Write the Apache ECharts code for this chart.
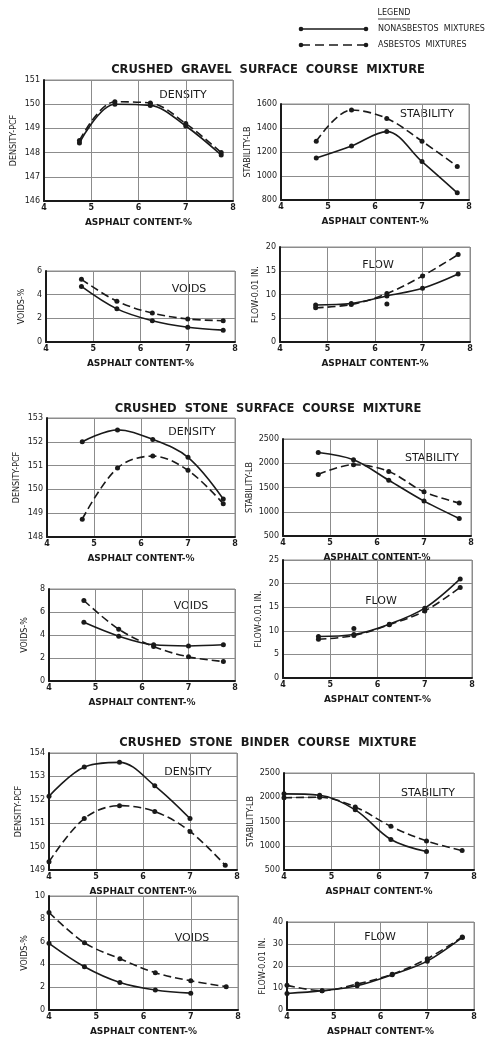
<!DOCTYPE html>
<html>
<head>
<meta charset="utf-8">
<script src="https://cdn.jsdelivr.net/npm/echarts@6/dist/echarts.min.js"></script>
<style>
  html, body { margin: 0; padding: 0; background: #fff; }
  #chart { width: 501px; height: 1037px; }
</style>
</head>
<body>
<div id="chart"></div>
<script>
// Asphalt content (%) at which the test mixtures were made
const asphaltSurface = [4.75, 5.5, 6.25, 7.0, 7.75];
const asphaltBinderNon = [4.0, 4.75, 5.5, 6.25, 7.0];
const asphaltBinderAsb = [4.0, 4.75, 5.5, 6.25, 7.0, 7.75];

// Crushed gravel surface course mixture
const gravelDensityNon = [148.4, 150.0, 149.95, 149.1, 147.9];
const gravelDensityAsb = [148.5, 150.1, 150.05, 149.2, 148.0];
const gravelStabilityNon = [1150, 1250, 1370, 1120, 860];
const gravelStabilityAsb = [1290, 1550, 1480, 1290, 1080];
const gravelVoidsNon = [4.7, 2.8, 1.8, 1.25, 1.0];
const gravelVoidsAsb = [5.3, 3.45, 2.45, 1.95, 1.8];
const gravelFlowNon = [7.8, 8.1, 9.7, 11.3, 14.3];
const gravelFlowAsb = [7.2, 7.9, 10.2, 13.9, 18.4];
const gravelFlowExtraX = [6.25];
const gravelFlowExtraY = [8.0];

// Crushed stone surface course mixture
const stoneDensityNon = [152.0, 152.5, 152.1, 151.35, 149.6];
const stoneDensityAsb = [148.75, 150.9, 151.4, 150.8, 149.4];
const stoneStabilityNon = [2220, 2070, 1650, 1220, 860];
const stoneStabilityAsb = [1770, 1970, 1830, 1410, 1180];
const stoneVoidsNon = [5.1, 3.9, 3.15, 3.05, 3.15];
const stoneVoidsAsb = [7.0, 4.5, 3.0, 2.1, 1.7];
const stoneFlowNon = [8.8, 9.2, 11.4, 14.8, 21.0];
const stoneFlowAsb = [8.2, 9.0, 11.3, 14.2, 19.2];
const stoneFlowExtraX = [5.5];
const stoneFlowExtraY = [10.5];

// Crushed stone binder course mixture
const binderDensityNon = [152.15, 153.4, 153.6, 152.6, 151.2];
const binderDensityAsb = [149.35, 151.2, 151.75, 151.5, 150.65, 149.2];
const binderStabilityNon = [2070, 2040, 1740, 1130, 880];
const binderStabilityAsb = [1990, 2000, 1800, 1400, 1100, 900];
const binderVoidsNon = [5.85, 3.8, 2.42, 1.76, 1.48];
const binderVoidsAsb = [8.55, 5.9, 4.5, 3.27, 2.56, 2.05];
const binderFlowNon = [7.5, 8.8, 11.0, 16.0, 22.2, 33.0];
const binderFlowAsb = [11.2, 8.8, 11.8, 16.3, 23.3, 33.2];
const asphaltBinderFlow = [4.0, 4.75, 5.5, 6.25, 7.0, 7.75];

// Axis tick labels and texts
const xTicks = [4, 5, 6, 7, 8];
const xName = 'ASPHALT CONTENT-%';
const sectionTitles = [
  'CRUSHED  GRAVEL  SURFACE  COURSE  MIXTURE',
  'CRUSHED  STONE  SURFACE  COURSE  MIXTURE',
  'CRUSHED  STONE  BINDER  COURSE  MIXTURE'
];
const legendNames = ['NONASBESTOS  MIXTURES', 'ASBESTOS  MIXTURES'];

const pair = (xs, ys) => xs.map((x, i) => [x, ys[i]]);

// Panel layout: [left, top, width, height] of each plot area, y range and step
const panels = [
  { box: [44, 80, 189, 121], y: [146, 151, 1], yName: 'DENSITY-PCF', tag: 'DENSITY', tagAt: [183, 95],
    non: pair(asphaltSurface, gravelDensityNon), asb: pair(asphaltSurface, gravelDensityAsb) },
  { box: [281, 104, 188, 96], y: [800, 1600, 200], yName: 'STABILITY-LB', tag: 'STABILITY', tagAt: [427, 114],
    non: pair(asphaltSurface, gravelStabilityNon), asb: pair(asphaltSurface, gravelStabilityAsb) },
  { box: [46, 271, 189, 71], y: [0, 6, 2], yName: 'VOIDS-%', tag: 'VOIDS', tagAt: [189, 289],
    non: pair(asphaltSurface, gravelVoidsNon), asb: pair(asphaltSurface, gravelVoidsAsb) },
  { box: [280, 247, 190, 95], y: [0, 20, 5], yName: 'FLOW-0.01 IN.', tag: 'FLOW', tagAt: [378, 265],
    non: pair(asphaltSurface, gravelFlowNon), asb: pair(asphaltSurface, gravelFlowAsb),
    extra: pair(gravelFlowExtraX, gravelFlowExtraY) },

  { box: [47, 418, 188, 119], y: [148, 153, 1], yName: 'DENSITY-PCF', tag: 'DENSITY', tagAt: [192, 432],
    non: pair(asphaltSurface, stoneDensityNon), asb: pair(asphaltSurface, stoneDensityAsb) },
  { box: [283, 439, 188, 97], y: [500, 2500, 500], yName: 'STABILITY-LB', tag: 'STABILITY', tagAt: [432, 458],
    non: pair(asphaltSurface, stoneStabilityNon), asb: pair(asphaltSurface, stoneStabilityAsb) },
  { box: [49, 589, 186, 92], y: [0, 8, 2], yName: 'VOIDS-%', tag: 'VOIDS', tagAt: [191, 606],
    non: pair(asphaltSurface, stoneVoidsNon), asb: pair(asphaltSurface, stoneVoidsAsb) },
  { box: [283, 560, 189, 118], y: [0, 25, 5], yName: 'FLOW-0.01 IN.', tag: 'FLOW', tagAt: [381, 601],
    non: pair(asphaltSurface, stoneFlowNon), asb: pair(asphaltSurface, stoneFlowAsb),
    extra: pair(stoneFlowExtraX, stoneFlowExtraY) },

  { box: [49, 753, 188, 117], y: [149, 154, 1], yName: 'DENSITY-PCF', tag: 'DENSITY', tagAt: [188, 772],
    non: pair(asphaltBinderNon, binderDensityNon), asb: pair(asphaltBinderAsb, binderDensityAsb) },
  { box: [284, 773, 190, 97], y: [500, 2500, 500], yName: 'STABILITY-LB', tag: 'STABILITY', tagAt: [428, 793],
    non: pair(asphaltBinderNon, binderStabilityNon), asb: pair(asphaltBinderAsb, binderStabilityAsb) },
  { box: [49, 896, 189, 117], y: [0, 10, 2], yName: 'VOIDS-%', tag: 'VOIDS', tagAt: [192, 938],
    non: pair(asphaltBinderNon, binderVoidsNon), asb: pair(asphaltBinderAsb, binderVoidsAsb) },
  { box: [287, 922, 187, 95], y: [0, 40, 10], yName: 'FLOW-0.01 IN.', tag: 'FLOW', tagAt: [380, 937],
    non: pair(asphaltBinderFlow, binderFlowNon), asb: pair(asphaltBinderFlow, binderFlowAsb) }
];

const INK = '#1a1a1a';
const GRIDC = '#8c8c8c';
const FONT = '"DejaVu Sans", sans-serif';

const grids = [], xAxes = [], yAxes = [], series = [], graphics = [];

panels.forEach((p, i) => {
  const [l, t, w, h] = p.box;
  grids.push({ left: l, top: t, width: w, height: h, show: true, borderColor: GRIDC, borderWidth: 1, containLabel: false });
  xAxes.push({
    type: 'value', gridIndex: i, min: xTicks[0], max: xTicks[xTicks.length - 1], interval: 1,
    name: xName, nameLocation: 'middle', nameGap: 17,
    nameTextStyle: { fontFamily: FONT, fontSize: 9, fontWeight: 'bold', color: INK },
    axisLine: { show: true, onZero: false, lineStyle: { color: INK, width: 2 } },
    axisTick: { show: false },
    axisLabel: { fontFamily: FONT, fontSize: 8, fontWeight: 'bold', color: INK, margin: 3 },
    splitLine: { show: true, lineStyle: { color: GRIDC, width: 1 } }
  });
  yAxes.push({
    type: 'value', gridIndex: i, min: p.y[0], max: p.y[1], interval: p.y[2],
    name: p.yName, nameLocation: 'middle', nameRotate: 90,
    nameGap: p.y[1] >= 1000 ? 29 : (p.y[1] > 100 ? 26 : 20),
    nameTextStyle: { fontFamily: FONT, fontSize: 8, color: INK },
    axisLine: { show: true, onZero: false, lineStyle: { color: INK, width: 2 } },
    axisTick: { show: false },
    axisLabel: { fontFamily: FONT, fontSize: 8, color: INK, margin: 4, formatter: v => String(v) },
    splitLine: { show: true, lineStyle: { color: GRIDC, width: 1 } }
  });
  const common = {
    type: 'line', xAxisIndex: i, yAxisIndex: i, smooth: 0.35,
    symbol: 'circle', symbolSize: 5, showSymbol: true, silent: true, animation: false,
    itemStyle: { color: INK, opacity: 1 }
  };
  series.push(Object.assign({}, common, {
    name: legendNames[0], data: p.non, lineStyle: { color: INK, width: 1.6, type: 'solid' }
  }));
  series.push(Object.assign({}, common, {
    name: legendNames[1], data: p.asb, lineStyle: { color: INK, width: 1.6, type: [8, 4] }
  }));
  if (p.extra) {
    series.push({
      type: 'scatter', xAxisIndex: i, yAxisIndex: i, data: p.extra, symbol: 'circle', symbolSize: 5,
      itemStyle: { color: INK, opacity: 1 }, silent: true, animation: false
    });
  }
  graphics.push({
    type: 'text', x: p.tagAt[0], y: p.tagAt[1],
    style: { text: p.tag, fontFamily: FONT, fontSize: 11, fill: INK, align: 'center', verticalAlign: 'middle' }
  });
});

// Section headings
[70, 409, 743].forEach((y, k) => {
  graphics.push({
    type: 'text', x: 268, y: y,
    style: { text: sectionTitles[k], fontFamily: FONT, fontSize: 11.5, fontWeight: 'bold', fill: INK,
             align: 'center', verticalAlign: 'middle' }
  });
});

// Legend block
graphics.push(
  { type: 'text', x: 394, y: 13, style: { text: 'LEGEND', fontFamily: FONT, fontSize: 8, fill: INK, align: 'center', verticalAlign: 'middle' } },
  { type: 'line', shape: { x1: 378, y1: 19, x2: 410, y2: 19 }, style: { stroke: INK, lineWidth: 0.8 } },
  { type: 'line', shape: { x1: 301, y1: 29, x2: 366, y2: 29 }, style: { stroke: INK, lineWidth: 1.5 } },
  { type: 'circle', shape: { cx: 301, cy: 29, r: 2.3 }, style: { fill: INK } },
  { type: 'circle', shape: { cx: 366, cy: 29, r: 2.3 }, style: { fill: INK } },
  { type: 'text', x: 378, y: 29, style: { text: legendNames[0], fontFamily: FONT, fontSize: 8, fill: INK, verticalAlign: 'middle' } },
  { type: 'line', shape: { x1: 301, y1: 45, x2: 366, y2: 45 }, style: { stroke: INK, lineWidth: 1.5, lineDash: [9, 5] } },
  { type: 'circle', shape: { cx: 301, cy: 45, r: 2.3 }, style: { fill: INK } },
  { type: 'circle', shape: { cx: 366, cy: 45, r: 2.3 }, style: { fill: INK } },
  { type: 'text', x: 378, y: 45, style: { text: legendNames[1], fontFamily: FONT, fontSize: 8, fill: INK, verticalAlign: 'middle' } }
);

const chart = echarts.init(document.getElementById('chart'), null, { renderer: 'canvas' });
chart.setOption({
  backgroundColor: '#ffffff',
  animation: false,
  grid: grids,
  xAxis: xAxes,
  yAxis: yAxes,
  series: series,
  graphic: graphics
});
</script>
</body>
</html>
